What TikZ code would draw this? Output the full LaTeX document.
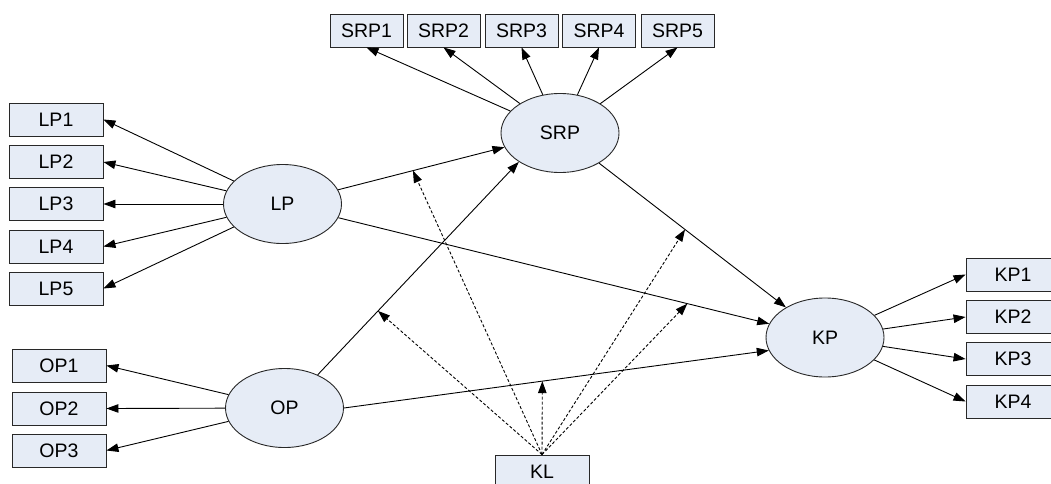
\documentclass[tikz,border=0pt]{standalone}
\usepackage{fontspec}
\setmainfont{Liberation Sans}
\usetikzlibrary{shapes.geometric,arrows.meta}
\definecolor{nodefill}{RGB}{230,236,246}
\definecolor{edgecol}{RGB}{40,40,40}
\tikzset{
  ind/.style={draw=edgecol,fill=nodefill,line width=0.9pt,minimum width=94pt,minimum height=33pt,inner sep=0pt,font=\fontsize{19.5}{23}\selectfont},
  indsm/.style={ind,minimum width=73pt},
  lat/.style={ellipse,draw=edgecol,fill=nodefill,line width=0.9pt,minimum width=118pt,minimum height=79pt,inner sep=0pt,font=\fontsize{19.5}{23}\selectfont},
  arr/.style={line width=0.9pt,-{Triangle[length=12pt,width=8.5pt]}},
  darr/.style={line width=0.9pt,dash pattern=on 3pt off 2pt,-{Triangle[length=12pt,width=8.5pt]}}
}
\begin{document}
\begin{tikzpicture}[x=1pt,y=-1pt]
\useasboundingbox (0,0) rectangle (1051,484);
\begin{scope}
\clip (0,0) rectangle (1051,484);
% indicator boxes
\node[ind] (LP1) at (56,119.5) {LP1};
\node[ind] (LP2) at (56,162) {LP2};
\node[ind] (LP3) at (56,204) {LP3};
\node[ind] (LP4) at (56,246.5) {LP4};
\node[ind] (LP5) at (56,288.5) {LP5};
\node[ind] (OP1) at (59,365.5) {OP1};
\node[ind] (OP2) at (59,408.5) {OP2};
\node[ind] (OP3) at (59,450.5) {OP3};
\node[indsm] (SRP1) at (366.5,30.5) {SRP1};
\node[indsm] (SRP2) at (443.5,30.5) {SRP2};
\node[indsm] (SRP3) at (521.5,30.5) {SRP3};
\node[indsm] (SRP4) at (599,30.5) {SRP4};
\node[indsm] (SRP5) at (677.5,30.5) {SRP5};
\node[ind] (KP1) at (1013,274.5) {KP1};
\node[ind] (KP2) at (1013,317) {KP2};
\node[ind] (KP3) at (1013,359) {KP3};
\node[ind] (KP4) at (1013,401.5) {KP4};
\node[ind] (KL) at (542,471.5) {KL};
% latent variables
\node[lat] (SRP) at (560,133) {SRP};
\node[lat] (LP) at (282.5,204) {LP};
\node[lat] (OP) at (284.5,408) {OP};
\node[lat] (KP) at (825,337.5) {KP};
% measurement arrows
\foreach \i in {1,...,5} \draw[arr] (LP) -- (LP\i.east);
\foreach \i in {1,...,3} \draw[arr] (OP) -- (OP\i.east);
\foreach \i in {1,...,5} \draw[arr] (SRP) -- (SRP\i.south);
\foreach \i in {1,...,4} \draw[arr] (KP) -- (KP\i.west);
% structural arrows
\draw[arr] (LP) -- coordinate[pos=0.45] (m1) (SRP);
\draw[arr] (OP.45) -- coordinate[pos=0.30] (m2) (SRP.215);
\draw[arr] (SRP) -- coordinate[pos=0.46] (m3) (KP);
\draw[arr] (LP) -- coordinate[pos=0.81] (m4) (KP);
\draw[arr] (OP.east) -- coordinate[pos=0.467] (m5) (KP.193);
% moderator arrows
\foreach \m in {m1,m2,m3,m4,m5} \draw[darr] (KL.north) -- (\m);
\end{scope}
\end{tikzpicture}
\end{document}
